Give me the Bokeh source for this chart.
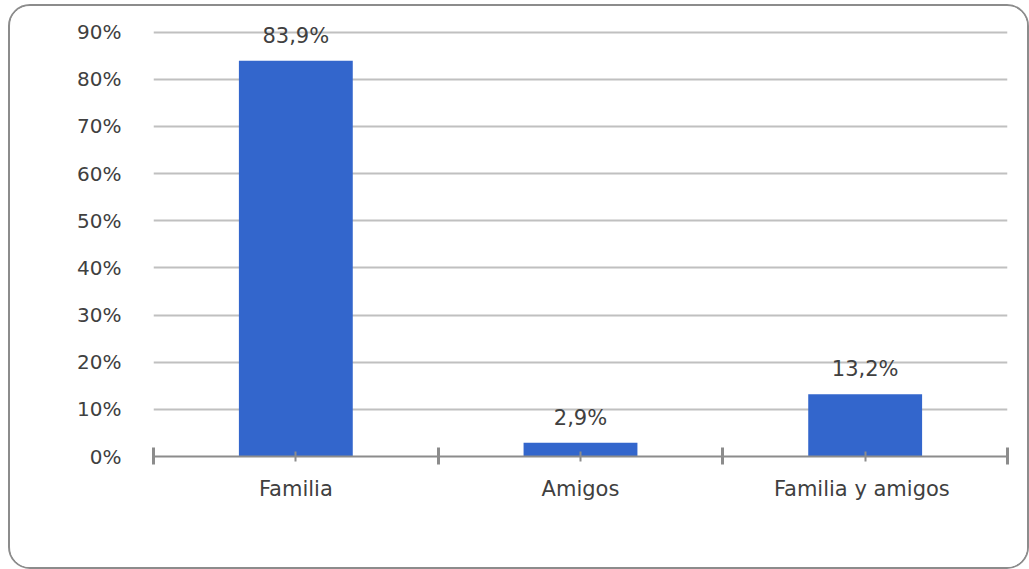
from bokeh.plotting import figure
from bokeh.models import Range1d, FixedTicker, NumeralTickFormatter, ColumnDataSource
from bokeh.core.properties import value
from bokeh.embed import file_html
from bokeh.resources import INLINE

categories = ["Familia", "Amigos", "Familia  y amigos"]
values = [0.839, 0.029, 0.132]
y_ticks = [0.0, 0.1, 0.2, 0.3, 0.4, 0.5, 0.6, 0.7, 0.8, 0.9]

n = len(categories)
centers = [i + 0.5 for i in range(n)]
bounds = [float(i) for i in range(n + 1)]
labels = [("%.1f%%" % (v * 100)).replace(".", ",") for v in values]

FONT = "DejaVu Sans"
TXT = "#404040"

p = figure(width=1021, height=565, output_backend="svg", toolbar_location=None,
           x_range=Range1d(0, n), y_range=Range1d(0, 0.95),
           min_border_left=143, min_border_right=24, min_border_top=2, min_border_bottom=115)
p.styles = {"border": "2px solid #8c8c8c", "border-radius": "22px", "overflow": "hidden",
            "margin-left": "8px", "margin-top": "4px"}
p.outline_line_color = None
p.background_fill_color = "white"
p.border_fill_color = "white"

src = ColumnDataSource(dict(x=centers, top=values, label=labels))
p.vbar(x="x", top="top", bottom=0, width=0.4, source=src, fill_color="#3366CC", line_color=None)
p.text(x="x", y="top", text="label", source=src, text_align="center", text_baseline="middle",
       y_offset=-25, text_font=value(FONT), text_font_size="21px", text_color=TXT)

# y axis
p.yaxis.ticker = FixedTicker(ticks=y_ticks)
p.yaxis.formatter = NumeralTickFormatter(format="0%")
p.yaxis.axis_line_color = None
p.yaxis.major_tick_line_color = None
p.yaxis.minor_tick_line_color = None
p.yaxis.major_label_standoff = 26
p.yaxis.major_label_text_font = FONT
p.yaxis.major_label_text_font_size = "20px"
p.yaxis.major_label_text_color = TXT

# x axis
p.xaxis.ticker = FixedTicker(ticks=centers, minor_ticks=bounds)
p.xaxis.major_label_overrides = {c: lab for c, lab in zip(centers, categories)}
p.xaxis.axis_line_color = "#8c8c8c"
p.xaxis.axis_line_width = 2
p.xaxis.major_tick_line_color = "#8c8c8c"
p.xaxis.major_tick_line_width = 2
p.xaxis.major_tick_in = 5
p.xaxis.major_tick_out = 5
p.xaxis.minor_tick_line_color = "#8c8c8c"
p.xaxis.minor_tick_line_width = 3
p.xaxis.minor_tick_in = 9
p.xaxis.minor_tick_out = 8
p.xaxis.major_label_standoff = 12
p.xaxis.major_label_text_font = FONT
p.xaxis.major_label_text_font_size = "21px"
p.xaxis.major_label_text_color = TXT

p.xgrid.grid_line_color = None
p.ygrid.ticker = FixedTicker(ticks=y_ticks)
p.ygrid.grid_line_color = "#c0c0c0"
p.ygrid.grid_line_width = 2

open("out.html", "w").write(file_html(p, INLINE))
